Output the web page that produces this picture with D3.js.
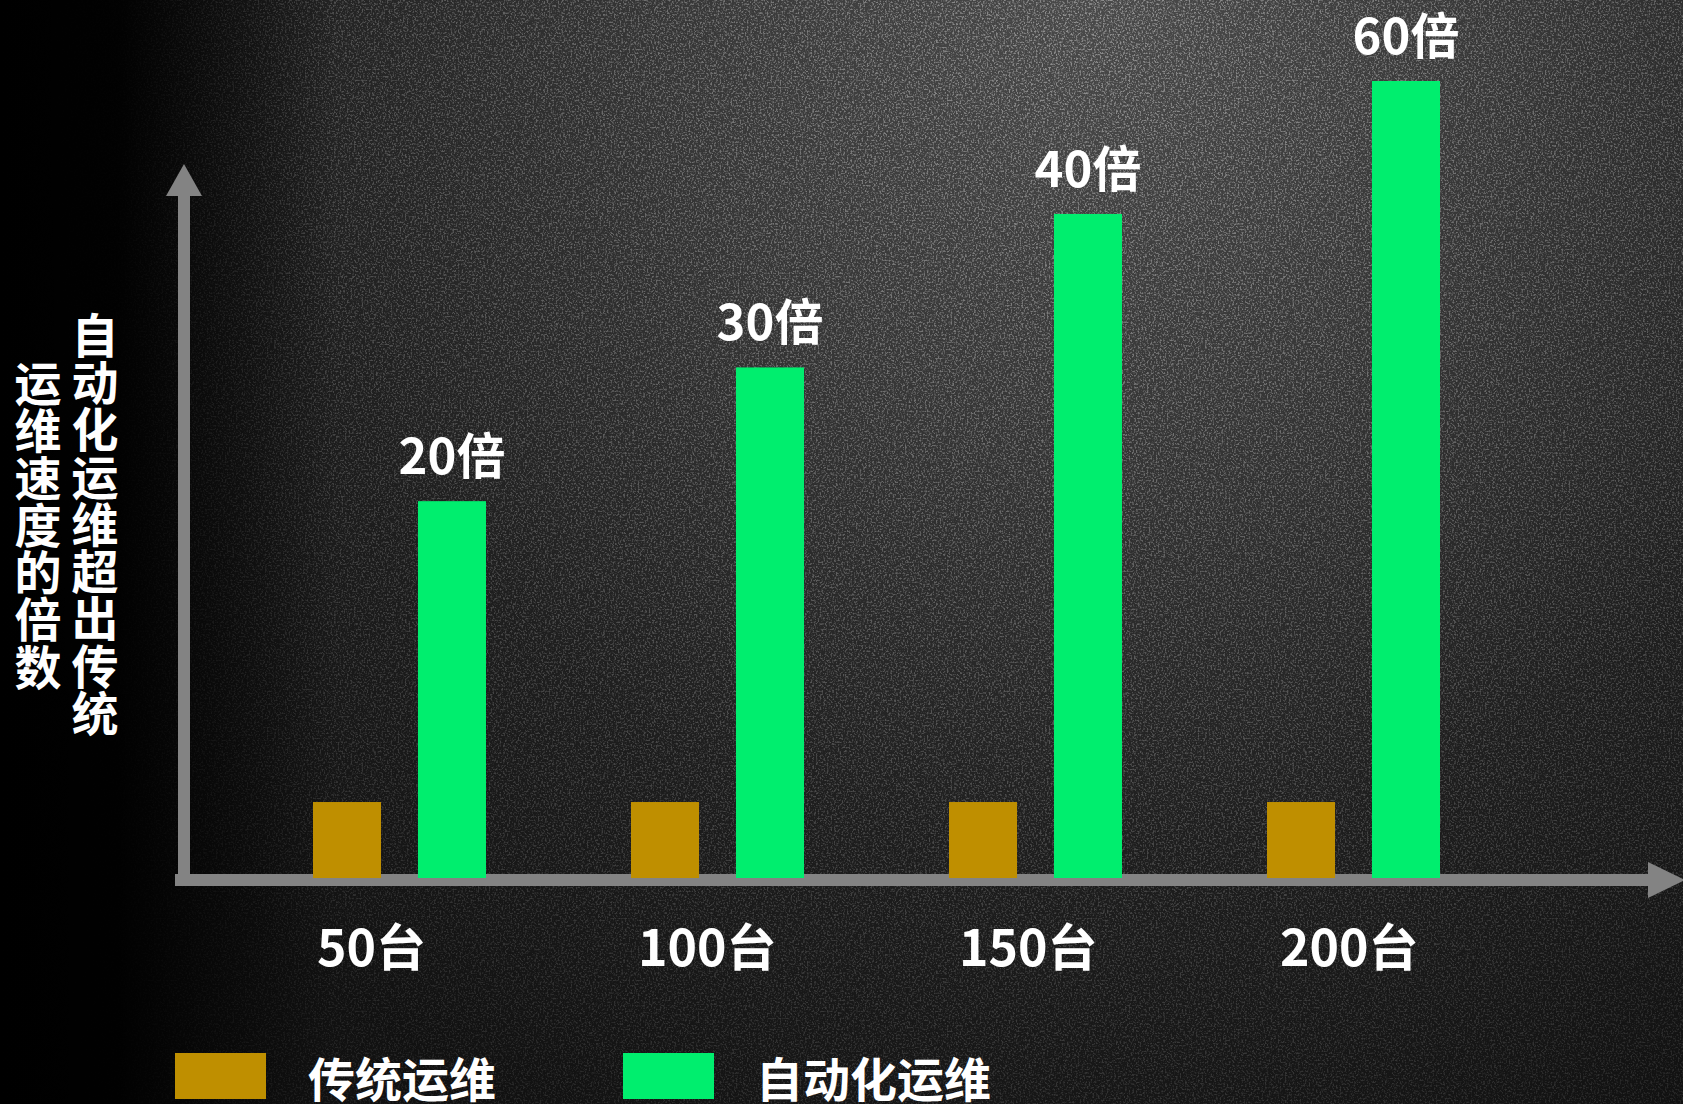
<!DOCTYPE html>
<html>
<head>
<meta charset="utf-8">
<script src="https://cdn.jsdelivr.net/npm/d3@7"></script>
<style>
  html, body { margin: 0; padding: 0; background: #000; overflow: hidden; }
  svg { display: block; }
  text { font-family: "Noto Sans CJK SC", "Noto Sans", sans-serif; font-weight: bold; fill: #ffffff; }
</style>
</head>
<body>
<script>
"use strict";

// categories on the x axis
const categories = ["50台", "100台", "150台", "200台"];
const seriesNames = ["传统运维", "自动化运维"];
// bar heights as drawn, in units of the traditional bar
const traditional = [1, 1, 1, 1];
const automated = [4.96, 6.72, 8.74, 10.49];
const automatedLabels = ["20倍", "30倍", "40倍", "60倍"];
// y axis title, two vertical columns (right one first)
const titleColumns = ["自动化运维超出传统", "运维速度的倍数"];

const colors = {
  "传统运维": "#BF8F00",
  "自动化运维": "#00EE6E"
};

(function() {

  window.addEventListener("load", init);

  let svgContainer = "";
  const measurements = {
    width: 1683,
    height: 1104,
    baseY: 878,
    topY: 81,
    axisColor: "#838383"
  };

  function init() {
    svgContainer = d3.select("body").append("svg")
      .attr("width", measurements.width)
      .attr("height", measurements.height);

    drawBackground();
    drawAxes();
    drawBars();
    drawTitle();
    drawLegend();
  }

  function drawBackground() {
    let defs = svgContainer.append("defs");

    let glow = defs.append("radialGradient")
      .attr("id", "glow")
      .attr("gradientUnits", "userSpaceOnUse")
      .attr("cx", 1100).attr("cy", 0).attr("r", 1250);
    glow.append("stop").attr("offset", 0).attr("stop-color", "#4a4a4a");
    glow.append("stop").attr("offset", 0.35).attr("stop-color", "#363636");
    glow.append("stop").attr("offset", 0.68).attr("stop-color", "#1e1e1e");
    glow.append("stop").attr("offset", 1).attr("stop-color", "#111111");

    let leftShade = defs.append("linearGradient")
      .attr("id", "leftShade")
      .attr("x1", 0).attr("x2", 1).attr("y1", 0).attr("y2", 0);
    leftShade.append("stop").attr("offset", 0).attr("stop-color", "#000").attr("stop-opacity", 1);
    leftShade.append("stop").attr("offset", 0.07).attr("stop-color", "#000").attr("stop-opacity", 0.95);
    leftShade.append("stop").attr("offset", 0.2).attr("stop-color", "#000").attr("stop-opacity", 0);

    // speckle texture
    let noise = defs.append("filter")
      .attr("id", "speckle")
      .attr("x", 0).attr("y", 0).attr("width", "100%").attr("height", "100%");
    noise.append("feTurbulence")
      .attr("type", "fractalNoise")
      .attr("baseFrequency", 0.55)
      .attr("numOctaves", 2)
      .attr("seed", 3);
    noise.append("feColorMatrix")
      .attr("type", "matrix")
      .attr("values", "0 0 0 0 1  0 0 0 0 1  0 0 0 0 1  4 0 0 0 -1.9");
    noise.append("feGaussianBlur").attr("stdDeviation", 0.6);

    let fade = defs.append("radialGradient")
      .attr("id", "fade")
      .attr("gradientUnits", "userSpaceOnUse")
      .attr("cx", 1100).attr("cy", 0).attr("r", 1300);
    fade.append("stop").attr("offset", 0).attr("stop-color", "#fff");
    fade.append("stop").attr("offset", 1).attr("stop-color", "#333");
    defs.append("mask").attr("id", "fadeMask")
      .append("rect")
      .attr("width", measurements.width).attr("height", measurements.height)
      .attr("fill", "url(#fade)");

    svgContainer.append("rect")
      .attr("width", measurements.width).attr("height", measurements.height)
      .attr("fill", "url(#glow)");

    svgContainer.append("rect")
      .attr("width", measurements.width).attr("height", measurements.height)
      .attr("filter", "url(#speckle)")
      .attr("mask", "url(#fadeMask)")
      .attr("opacity", 0.4);

    svgContainer.append("rect")
      .attr("width", measurements.width).attr("height", measurements.height)
      .attr("fill", "url(#leftShade)");
  }

  function drawAxes() {
    // y axis with arrow head
    svgContainer.append("rect")
      .attr("x", 178).attr("y", 192)
      .attr("width", 12).attr("height", 694)
      .attr("fill", measurements.axisColor);
    svgContainer.append("path")
      .attr("d", "M166,196 L184,164 L202,196 Z")
      .attr("fill", measurements.axisColor);

    // x axis with arrow head
    svgContainer.append("rect")
      .attr("x", 175).attr("y", 874)
      .attr("width", 1476).attr("height", 12)
      .attr("fill", measurements.axisColor);
    svgContainer.append("path")
      .attr("d", "M1648,862 L1685,880 L1648,898 Z")
      .attr("fill", measurements.axisColor);
  }

  function drawBars() {
    let scaleX = d3.scaleBand()
      .domain(categories)
      .range([313, 1440])
      .paddingInner(0.456)
      .paddingOuter(0);

    let scaleSub = d3.scaleBand()
      .domain(seriesNames)
      .range([0, scaleX.bandwidth()])
      .paddingInner(0.352);

    let scaleY = d3.scaleLinear()
      .domain([0, d3.max(automated)])
      .range([measurements.baseY, measurements.topY]);

    let rows = categories.map(function(c, i) {
      return {
        category: c,
        values: [
          { series: seriesNames[0], value: traditional[i] },
          { series: seriesNames[1], value: automated[i], label: automatedLabels[i] }
        ]
      };
    });

    let groups = svgContainer.selectAll(".group")
      .data(rows)
      .enter()
      .append("g")
      .attr("class", "group")
      .attr("transform", function(d) { return "translate(" + scaleX(d.category) + ",0)"; });

    groups.selectAll("rect")
      .data(function(d) { return d.values; })
      .enter()
      .append("rect")
      .attr("x", function(d) { return scaleSub(d.series); })
      .attr("y", function(d) { return scaleY(d.value); })
      .attr("width", scaleSub.bandwidth())
      .attr("height", function(d) { return measurements.baseY - scaleY(d.value); })
      .attr("fill", function(d) { return colors[d.series]; });

    // value labels over the green bars
    groups.selectAll(".valueLabel")
      .data(function(d) { return d.values.filter(function(v) { return v.label; }); })
      .enter()
      .append("text")
      .attr("class", "valueLabel")
      .attr("x", function(d) { return scaleSub(d.series) + scaleSub.bandwidth() / 2; })
      .attr("y", function(d) { return scaleY(d.value) - 27; })
      .attr("text-anchor", "middle")
      .style("font-size", "49px")
      .text(function(d) { return d.label; });

    // category labels
    groups.append("text")
      .attr("x", function(d, i) { return 4 + i * 3; })
      .attr("y", 966)
      .style("font-size", "50px")
      .text(function(d) { return d.category; });
  }

  function drawTitle() {
    const columnX = [95, 38];
    const columnMid = [524, 525];
    const fontSize = 47;
    const pitch = 47.3;

    // each column is drawn one character per line
    titleColumns.forEach(function(line, k) {
      let chars = Array.from(line);
      let first = columnMid[k] - (chars.length - 1) / 2 * pitch;
      svgContainer.selectAll(".title" + k)
        .data(chars)
        .enter()
        .append("text")
        .attr("class", "title" + k)
        .attr("x", columnX[k])
        .attr("y", function(d, i) { return first + i * pitch + fontSize * 0.38; })
        .attr("text-anchor", "middle")
        .style("font-size", fontSize + "px")
        .text(function(d) { return d; });
    });
  }

  function drawLegend() {
    let items = svgContainer.selectAll(".legend")
      .data(seriesNames)
      .enter()
      .append("g")
      .attr("class", "legend")
      .attr("transform", function(d, i) { return "translate(" + (175 + i * 448) + ",1053)"; });

    items.append("rect")
      .attr("width", 91)
      .attr("height", 46)
      .attr("fill", function(d) { return colors[d]; });

    items.append("text")
      .attr("x", 133)
      .attr("y", 44)
      .style("font-size", "47px")
      .text(function(d) { return d; });
  }

})();
</script>
</body>
</html>
